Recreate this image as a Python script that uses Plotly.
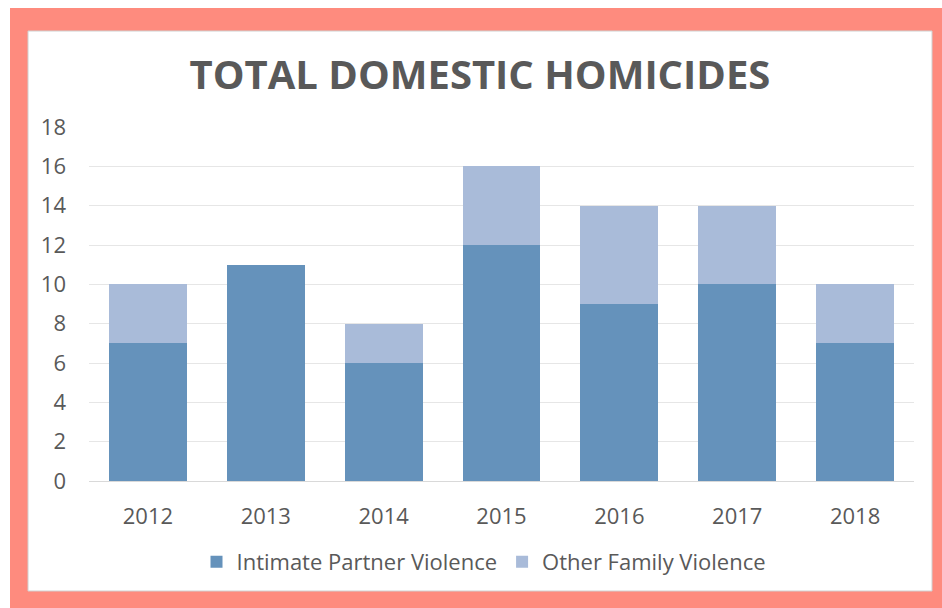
import plotly.graph_objects as go

years = ["2012", "2013", "2014", "2015", "2016", "2017", "2018"]
intimate_partner = [7, 11, 6, 12, 9, 10, 7]
other_family = [3, 0, 2, 4, 5, 4, 3]
y_ticks = [0, 2, 4, 6, 8, 10, 12, 14, 16, 18]

font_family = "Open Sans, Liberation Sans, sans-serif"
text_color = "#595959"

fig = go.Figure()
fig.add_trace(go.Bar(x=years, y=intimate_partner, name="Intimate Partner Violence",
                     marker=dict(color="#6592BB", line=dict(width=0))))
fig.add_trace(go.Bar(x=years, y=other_family, name="Other Family Violence",
                     marker=dict(color="#A9BBD9", line=dict(width=0))))

# plot area in pixels: left 89, right 914, top 127, bottom 481
pw, ph = 825.0, 354.0
def px(x):
    return (x - 89) / pw
def py(y):
    return (481 - y) / ph

fig.update_layout(
    barmode="stack",
    bargap=0.34,
    width=942, height=608,
    paper_bgcolor="white",
    plot_bgcolor="rgba(0,0,0,0)",
    margin=dict(l=89, r=28, t=127, b=127),
    font=dict(family=font_family, color=text_color, size=22),
    title=dict(text="<b>TOTAL DOMESTIC HOMICIDES</b>", xref="container", x=480 / 942,
               xanchor="center",
               y=1 - 75 / 608, yanchor="middle",
               font=dict(size=40, color=text_color, family=font_family)),
    showlegend=True,
    legend=dict(orientation="h", x=px(484), xanchor="center", y=py(541), yanchor="top",
                font=dict(size=22, color=text_color), traceorder="normal",
                itemwidth=30),
)

fig.add_shape(type="rect", xref="paper", yref="paper", layer="below",
              x0=px(10), x1=px(942), y0=py(608), y1=py(8),
              fillcolor="#FE8B7E", line=dict(width=0))
fig.add_shape(type="rect", xref="paper", yref="paper", layer="below",
              x0=px(28), x1=px(932), y0=py(591), y1=py(31),
              fillcolor="white", line=dict(width=1, color="#D0D0D0"))

fig.update_xaxes(showgrid=False, showline=True, linecolor="#D9D9D9", linewidth=1,
                 ticks="", tickfont=dict(size=22, color=text_color), ticklabelstandoff=16)
fig.update_yaxes(range=[0, 18], tickvals=y_ticks, showgrid=True, gridcolor="#E6E6E6",
                 gridwidth=1, zeroline=False, showline=False, ticks="",
                 tickfont=dict(size=22, color=text_color), ticklabelstandoff=22)

fig.write_html("out.html", config={"displayModeBar": False})

with open("out.html", "r", encoding="utf-8") as f:
    html = f.read()
html = html.replace("<head>", "<head><style>html,body{margin:0;padding:0;overflow:hidden;}</style>", 1)
with open("out.html", "w", encoding="utf-8") as f:
    f.write(html)
